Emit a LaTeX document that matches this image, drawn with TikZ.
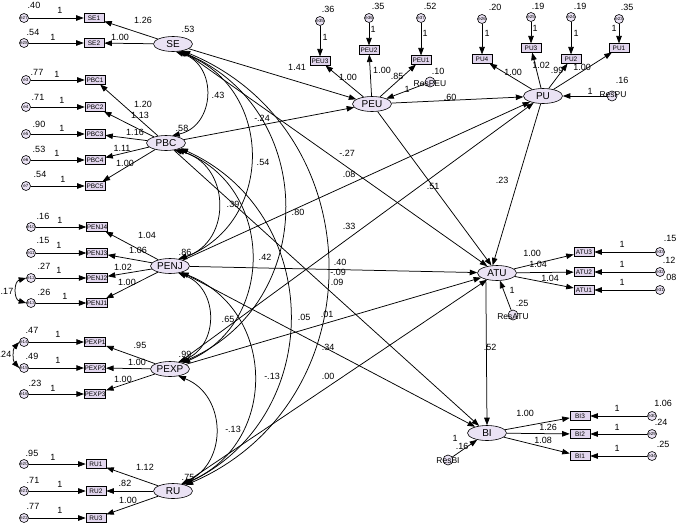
\documentclass[tikz,border=0pt]{standalone}
\usepackage{fontspec}
\setmainfont{Liberation Sans}
\usetikzlibrary{shapes.geometric,arrows.meta}
\definecolor{latfill}{RGB}{234,226,244}
\definecolor{obsfill}{RGB}{226,214,238}
\begin{document}
\begin{tikzpicture}[x=1pt,y=-1pt,
  lat/.style={ellipse,draw,line width=0.6pt,fill=latfill,minimum width=39pt,minimum height=15pt,inner sep=0pt,font=\fontsize{10}{10}\selectfont},
  obs/.style={rectangle,draw,line width=0.6pt,fill=obsfill,minimum width=20pt,minimum height=8.5pt,inner sep=0.3pt,font=\fontsize{6.5}{6.5}\selectfont},
  err/.style={circle,draw,line width=0.6pt,fill=latfill,minimum size=9pt,inner sep=0pt,font=\fontsize{4.5}{4.5}\selectfont},
  res/.style={circle,draw,line width=0.6pt,fill=latfill,minimum size=10pt,inner sep=0pt},
  num/.style={inner sep=0pt,font=\fontsize{9}{9}\selectfont},
  rlab/.style={inner sep=0pt,font=\fontsize{8.5}{8.5}\selectfont},
  arr/.style={-{Triangle[length=7.5pt,width=5.5pt]},line width=0.75pt},
  cov/.style={{Triangle[length=7.5pt,width=5.5pt]}-{Triangle[length=7.5pt,width=5.5pt]},line width=0.75pt}]
\useasboundingbox[fill=white] (0,0) rectangle (676,525);

% latent variables
\node[lat] (SE) at (173,44) {SE};
\node[lat] (PBC) at (166,143) {PBC};
\node[lat] (PENJ) at (170,266) {PENJ};
\node[lat] (PEXP) at (170,369) {PEXP};
\node[lat] (RU) at (173,491) {RU};
\node[lat] (PEU) at (372,104) {PEU};
\node[lat] (PU) at (543,96) {PU};
\node[lat] (ATU) at (497,273) {ATU};
\node[lat] (BI) at (487,433) {BI};

% left indicators and errors
\foreach \n/\y/\e in {1/18/e27,2/43/e28}{
  \node[obs] (SE\n) at (94,\y) {SE\n};
  \node[err] (eSE\n) at (24,\y) {\e};
  \draw[arr] (SE) -- (SE\n);
  \draw[arr] (eSE\n) -- (SE\n);
}
\foreach \n/\y/\e in {1/80/e3,2/107/e4,3/134/e5,4/160/e6,5/186/e7}{
  \node[obs] (PBC\n) at (95,\y) {PBC\n};
  \node[err] (ePBC\n) at (26,\y) {\e};
  \draw[arr] (PBC) -- (PBC\n);
  \draw[arr] (ePBC\n) -- (PBC\n);
}
\foreach \n/\y/\e in {4/227/e10,3/253/e11,2/278/e12,1/303/e13}{
  \node[obs] (PENJ\n) at (97,\y) {PENJ\n};
  \node[err] (ePENJ\n) at (31,\y) {\e};
  \draw[arr] (PENJ) -- (PENJ\n);
  \draw[arr] (ePENJ\n) -- (PENJ\n);
}
\foreach \n/\y/\e in {1/342/e14,2/368/e15,3/394/e16}{
  \node[obs] (PEXP\n) at (95,\y) {PEXP\n};
  \node[err] (ePEXP\n) at (24,\y) {\e};
  \draw[arr] (PEXP) -- (PEXP\n);
  \draw[arr] (ePEXP\n) -- (PEXP\n);
}
\foreach \n/\y/\e in {1/464/e20,2/491/e21,3/518/e22}{
  \node[obs] (RU\n) at (96,\y) {RU\n};
  \node[err] (eRU\n) at (24,\y) {\e};
  \draw[arr] (RU) -- (RU\n);
  \draw[arr] (eRU\n) -- (RU\n);
}
% error covariances
\draw[cov] (ePENJ2.west) to[bend right=74,looseness=1.34] (ePENJ1.west);
\draw[cov] (ePEXP1.west) to[bend right=42,looseness=0.97] (ePEXP2.west);

% top indicators
\foreach \n/\x/\y/\ey/\e in {3/320/61/21/e35,2/369/50/18/e36,1/421/60/18/e37}{
  \node[obs] (PEU\n) at (\x,\y) {PEU\n};
  \node[err] (ePEU\n) at (\x,\ey) {\e};
  \draw[arr] (PEU) -- (PEU\n);
  \draw[arr] (ePEU\n) -- (PEU\n);
}
\foreach \n/\x/\y/\ey/\e in {4/482/59/19/e26,3/531/48/17/e25,2/571/59/17/e24,1/619/48/19/e23}{
  \node[obs] (PU\n) at (\x,\y) {PU\n};
  \node[err] (ePU\n) at (\x,\ey) {\e};
  \draw[arr] (PU) -- (PU\n);
  \draw[arr] (ePU\n) -- (PU\n);
}
% right indicators
\foreach \n/\y/\e in {3/252/e33,2/272/e32,1/290/e31}{
  \node[obs] (ATU\n) at (584,\y) {ATU\n};
  \node[err] (eATU\n) at (660,\y) {\e};
  \draw[arr] (ATU) -- (ATU\n);
  \draw[arr] (eATU\n) -- (ATU\n);
}
\foreach \n/\y/\e in {3/416/e30,2/434/e29,1/456/e34}{
  \node[obs] (BI\n) at (580,\y) {BI\n};
  \node[err] (eBI\n) at (652,\y) {\e};
  \draw[arr] (BI) -- (BI\n);
  \draw[arr] (eBI\n) -- (BI\n);
}

% residuals
\node[res] (rPEU) at (430,82) {};
\node[rlab] (trPEU) at (430,84) {ResPEU};
\node[res] (rPU) at (612,96) {};
\node[rlab] (trPU) at (613,95) {ResPU};
\node[res] (rATU) at (513,315) {};
\node[rlab] (trATU) at (513,317) {ResATU};
\node[res] (rBI) at (448,460) {};
\node[rlab] (trBI) at (448,461) {ResBI};
\draw[arr] (rPEU) -- (PEU);
\draw[arr] (rPU) -- (PU);
\draw[arr] (rATU) -- (ATU);
\draw[arr] (rBI) -- (BI);

% structural paths
\draw[arr] (SE) -- (PEU);
\draw[arr] (PBC) -- (PEU);
\draw[arr] (PEU) -- (PU);
\draw[arr] (PEU) -- (ATU);
\draw[arr] (PU) -- (ATU.120);
\draw[arr] (ATU.-150) -- (BI.north);
\draw[arr] (SE) -- (ATU);
\draw[arr] (PENJ) -- (PU);
\draw[arr] (PEXP) -- (PU);
\draw[arr] (PENJ) -- (ATU);
\draw[arr] (PEXP) -- (ATU);
\draw[arr] (RU) -- (ATU);
\draw[arr] (PENJ) -- (BI);
\draw[arr] (PBC) -- (BI);

% covariances among exogenous constructs
\draw[cov] (SE.-70) to[bend left=75,looseness=1.35] (PBC.50);
\draw[cov] (SE.-55) to[bend left=69,looseness=1.26] (PENJ.35);
\draw[cov] (SE.-45) to[bend left=67,looseness=1.23] (PEXP.30);
\draw[cov] (SE.-35) to[bend left=67,looseness=1.22] (RU.25);
\draw[cov] (PBC.-40) to[bend left=75,looseness=1.35] (PENJ.40);
\draw[cov] (PBC.-30) to[bend left=68,looseness=1.23] (PEXP.25);
\draw[cov] (PBC.-20) to[bend left=65,looseness=1.2] (RU.30);
\draw[cov] (PENJ.-40) to[bend left=69,looseness=1.26] (PEXP.40);
\draw[cov] (PENJ.-30) to[bend left=68,looseness=1.25] (RU.35);
\draw[cov] (PEXP.-40) to[bend left=67,looseness=1.22] (RU.40);

% left numbers: variances
\foreach \t/\x/\y [count=\i] in {.40/34/5,.54/33/32,.77/37/72,.71/38/97,.90/39/124,.53/39/149,.54/40/174,.16/43/216,.15/43/240,.27/44/266,.26/44/292,.17/7/291,.47/32/330,.49/32/356,.23/35/383,.24/5/354,.95/32/453,.71/33/480,.77/33/506}
  \node[num] (lv\i) at (\x,\y) {\t};
% left "1" labels
\foreach \x/\y [count=\i] in {60/10,53/37,57/74,62/100,62/128,57/153,63/179,60/220,59/245,59/270,65/296,58/334,58/360,53/388,53/457,60/484,60/510}
  \node[num] (lo\i) at (\x,\y) {1};
% left loadings
\foreach \t/\x/\y [count=\i] in {1.26/143/20,1.00/120/37,1.20/143/104,1.13/140/115,1.16/135/132,1.11/122/148,1.00/125/163,1.04/147/235,1.06/138/250,1.02/123/267,1.00/127/282,.95/140/345,1.00/137/362,1.00/123/379,1.12/145/467,.82/125/483,1.00/128/500}
  \node[num] (ll\i) at (\x,\y) {\t};
% latent variances
\foreach \t/\x/\y [count=\i] in {.53/188/29,.58/182/128,.86/185/252,.99/185/354,.75/188/477}
  \node[num] (lat\i) at (\x,\y) {\t};
% structural and covariance estimates
\foreach \t/\x/\y [count=\i] in {1.41/297/67,-.24/262/118,-.27/347/153,.08/349/174,.80/298/212,.33/349/226,.40/340/262,-.09/338/272,.09/337/282,.51/433/186,.23/502/180,.52/490/347,.60/450/97,.43/218/95,.54/263/162,.39/233/204,.42/265/257,.65/228/319,.05/304/317,.01/327/314,.34/328/347,-.13/272/376,.00/328/376,-.13/233/429}
  \node[num] (ls\i) at (\x,\y) {\t};
% top-right numbers
\foreach \t/\x/\y [count=\i] in {.36/328/9,.35/378/6,.52/430/6,1/325/37,1/373/29,1/425/33,1.00/348/77,1.00/382/70,.85/397/76,.10/438/71,1/407/89,
  .20/495/7,.19/538/6,.19/580/6,.35/627/7,1/487/33,1/535/28,1/576/33,1/614/28,1.00/513/72,1.02/541/65,.99/557/70,1.00/582/67,.16/622/80,1/590/91,
  .15/670/238,.12/669/260,.08/670/277,1/622/244,1/622/264,1/622/282,1.00/532/253,1.04/538/264,1.04/550/278,.25/522/303,1/512/290,
  1.06/663/403,.24/661/422,.25/663/444,1/617/408,1/617/427,1/617/448,1.00/525/413,1.26/548/427,1.08/543/440,.16/462/446,1/455/438}
  \node[num] (lr\i) at (\x,\y) {\t};
\end{tikzpicture}
\end{document}
